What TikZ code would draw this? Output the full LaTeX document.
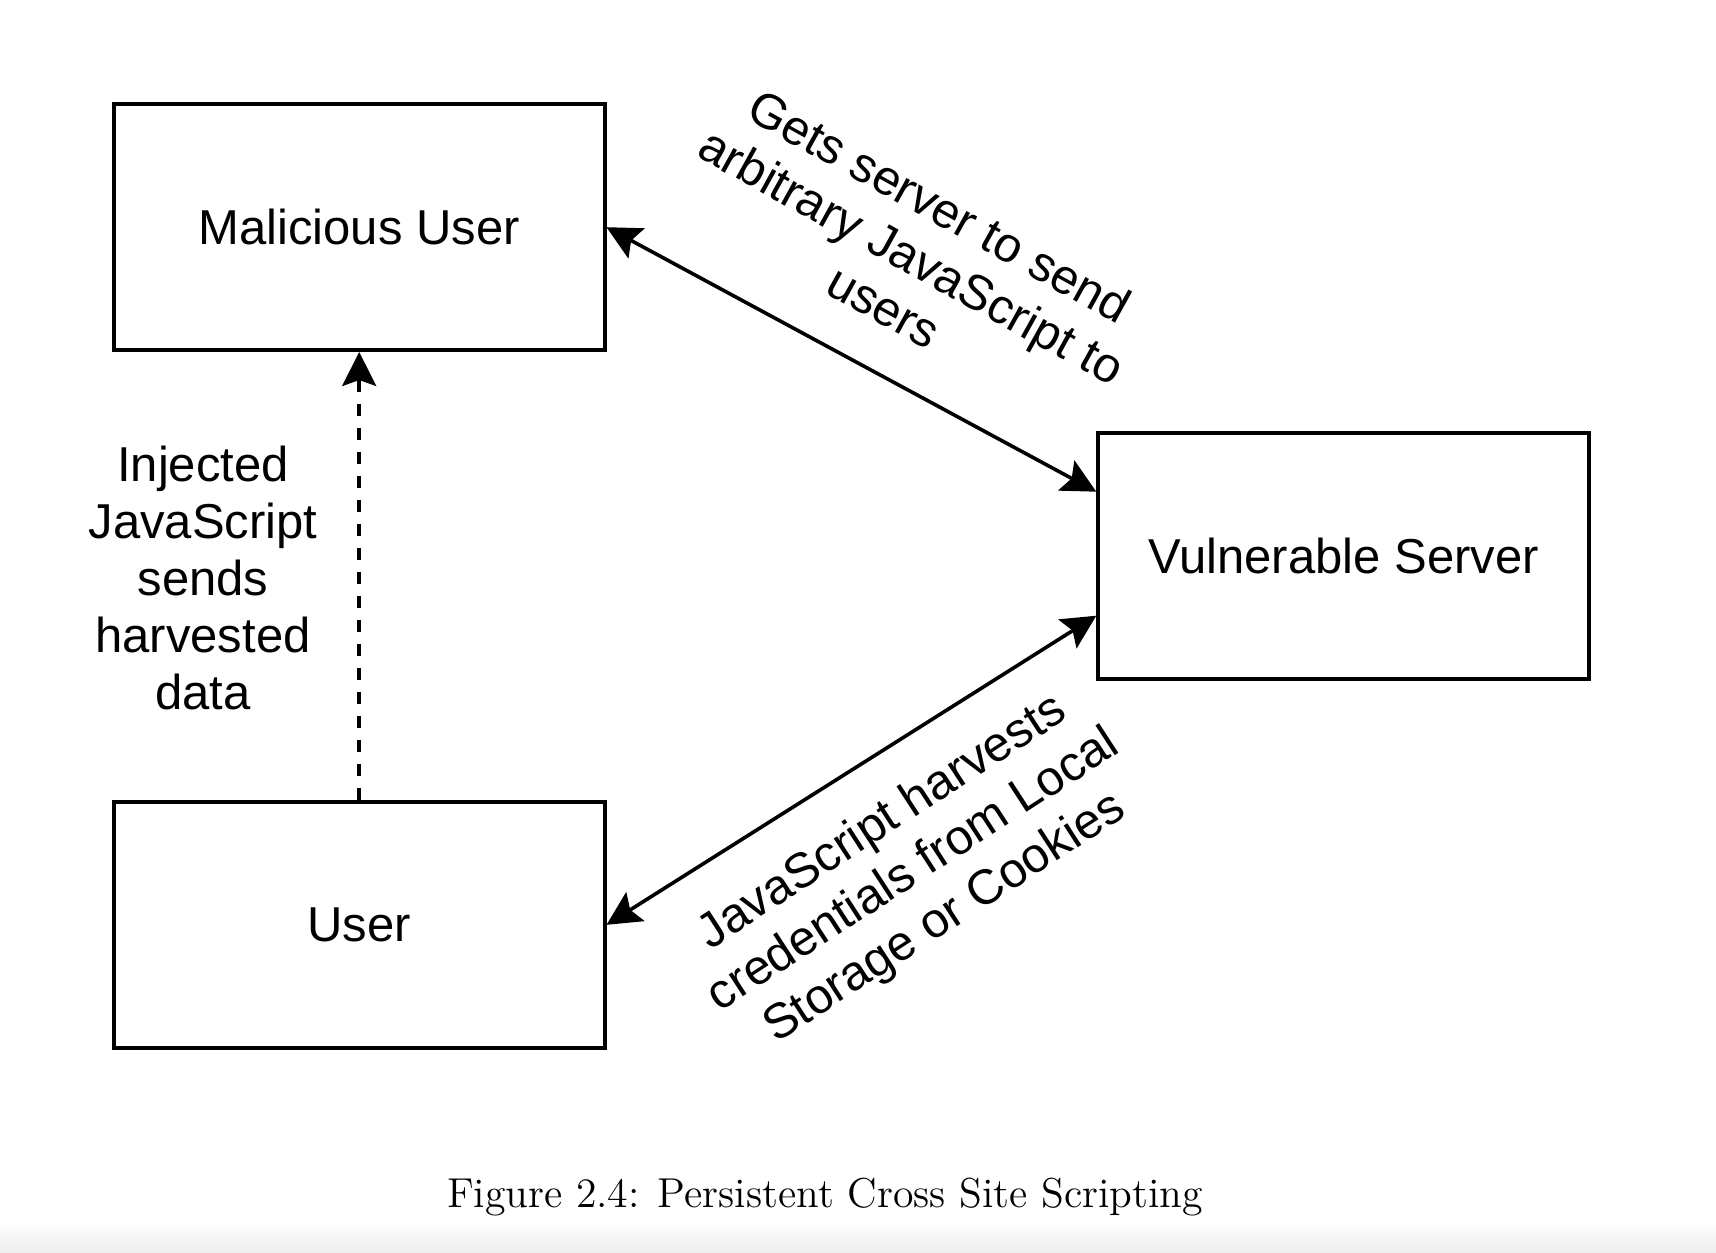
\documentclass[tikz,border=0pt]{standalone}
\usepackage{fontspec}
\setmainfont{Latin Modern Roman}
\newfontfamily\diafont{Liberation Sans}
\newfontfamily\capfont{lmroman12-regular}[Extension=.otf]
\usetikzlibrary{arrows.meta}
\begin{document}
\begin{tikzpicture}[x=0.5pt,y=-0.5pt,
  box/.style={draw, line width=1.8pt, minimum width=245.5pt, minimum height=123pt, inner sep=0pt, font=\diafont\fontsize{24.5}{28.6}\selectfont},
  lbl/.style={align=center, inner sep=0pt, font=\diafont\fontsize{24.5}{28.6}\selectfont},
  conn/.style={line width=1.8pt, {Stealth[length=17pt,width=17pt,inset=3pt]}-{Stealth[length=17pt,width=17pt,inset=3pt]}},
  dconn/.style={line width=1.8pt, dash pattern=on 6pt off 6pt, -{Stealth[length=17pt,width=17pt,inset=3pt]}}]
\useasboundingbox (0,0) rectangle (1716,1252);
\shade[top color=white, bottom color=black!7] (0,1222) rectangle (1716,1252);
\node[box] (mal) at (359.2,227.2) {Malicious User};
\node[box] (srv) at (1343.6,555.7) {Vulnerable Server};
\node[box] (usr) at (359.2,924.8) {User};
\draw[conn] (mal.east) -- ([yshift=32pt]srv.west);
\draw[conn] (usr.east) -- ([yshift=-30pt]srv.west);
\draw[dconn] (usr.north) -- (mal.south);
\node[lbl] (l1) at (203,578) {Injected\\JavaScript\\sends\\harvested\\data};
\node[lbl, rotate=-29] (l2) at (912,256) {Gets server to send\\arbitrary JavaScript to\\users};
\node[lbl, rotate=33] (l3) at (914,871) {JavaScript harvests\\credentials from Local\\Storage or Cookies};
\node[anchor=base, inner sep=0pt, font=\capfont\fontsize{20.9}{24}\selectfont] (cap) at (825,1207) {Figure 2.4: Persistent Cross Site Scripting};
\end{tikzpicture}
\end{document}
